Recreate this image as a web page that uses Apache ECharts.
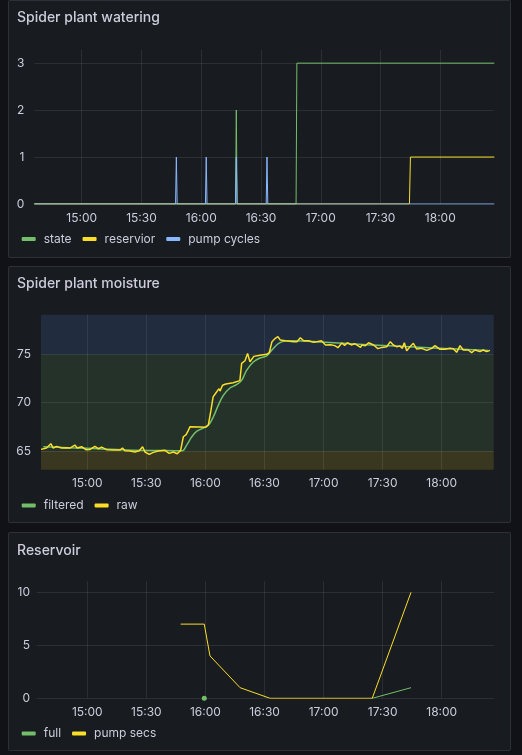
<!DOCTYPE html>
<html><head><meta charset="utf-8">
<script src="https://cdn.jsdelivr.net/npm/echarts@6/dist/echarts.min.js"></script>
<style>
html,body{margin:0;padding:0;background:#111217;width:522px;height:755px;overflow:hidden;}
.panel{position:absolute;background:#181b1f;border:1px solid rgba(204,204,220,0.12);border-radius:2px;box-sizing:border-box;}
#chart{position:absolute;left:0;top:0;width:522px;height:755px;}
</style></head><body>
<div class="panel" style="left:8px;top:0px;width:503px;height:258px"></div>
<div class="panel" style="left:8px;top:266px;width:503px;height:257px"></div>
<div class="panel" style="left:8px;top:532px;width:503px;height:219px"></div>
<div id="chart"></div>
<script>
// ---------- Panel 1: Spider plant watering ----------
const stateTimes = ['14:36:12','16:17:12','16:17:36','16:18:00','16:47:36','16:48:00','18:27:06'];
const stateValues = [0,0,2,0,0,3,3];
const reservoirTimes = ['14:36:12','17:44:30','17:45:00','18:27:06'];
const reservoirValues = [0,0,1,1];
const pumpCycleTimes = ['14:36:12','15:47:06','15:47:30','15:47:54','16:02:06','16:02:30','16:02:54','16:17:12','16:17:36','16:18:00','16:32:36','16:33:00','16:33:24','18:27:06'];
const pumpCycleValues = [0,0,1,0,0,1,0,0,1,0,0,1,0,0];
const wateringTicks = [0,1,2,3];

// ---------- Panel 2: Spider plant moisture ----------
const rawTimes = ['14:36:30','14:39:18','14:41:30','14:42:42','14:44:24','14:47:00','14:49:30','14:51:12','14:53:42','14:54:54','14:57:06','14:59:18','15:01:24','15:03:54','15:05:36','15:07:18','15:09:48','15:13:12','15:16:36','15:17:54','15:19:06','15:21:42','15:24:12','15:26:24','15:28:06','15:29:18','15:31:30','15:33:30','15:36:06','15:39:24','15:41:36','15:43:42','15:45:42','15:47:24','15:47:54','15:48:48','15:50:12','15:51:00','15:52:12','15:57:12','16:00:00','16:01:30','16:02:48','16:03:54','16:05:18','16:06:54','16:07:24','16:08:42','16:10:24','16:14:06','16:17:30','16:18:24','16:20:06','16:21:24','16:22:36','16:24:36','16:27:42','16:31:06','16:32:24','16:33:48','16:35:30','16:36:48','16:38:00','16:40:36','16:44:48','16:46:30','16:48:12','16:49:54','16:52:24','16:54:54','16:56:36','16:58:54','17:01:00','17:03:36','17:05:42','17:07:18','17:09:18','17:10:42','17:12:06','17:14:06','17:15:48','17:18:48','17:19:30','17:21:12','17:22:54','17:25:24','17:27:36','17:29:36','17:32:06','17:33:54','17:35:24','17:37:06','17:38:48','17:40:00','17:41:00','17:42:12','17:43:54','17:45:36','17:47:18','17:49:48','17:52:24','17:54:54','17:56:36','17:59:06','18:01:42','18:04:12','18:05:54','18:07:36','18:09:18','18:10:54','18:13:30','18:15:12','18:16:54','18:19:24','18:21:06','18:22:48','18:24:30'];
const rawValues = [65.17,65.31,65.76,65.31,65.48,65.31,65.34,65.31,65.62,65.31,65.45,65.14,65.17,65.48,65.24,65.41,65.14,65.10,65.10,65.31,65.03,65.00,64.90,65.03,65.45,64.90,64.66,64.86,65.00,65.07,64.76,64.90,64.72,65.07,65.10,66.48,66.70,67.00,67.52,67.48,67.45,67.70,69.20,70.60,71.00,71.45,71.20,71.80,71.93,72.07,72.28,74.07,74.34,75.10,74.24,74.79,74.90,75.00,75.17,76.31,76.66,76.83,76.48,76.41,76.31,76.31,76.72,76.41,76.41,76.24,76.31,76.41,75.97,76.00,75.90,75.69,76.17,75.93,76.20,75.97,76.10,75.72,75.97,75.90,76.20,75.97,75.59,75.72,75.79,76.31,75.97,75.79,75.86,75.62,76.20,75.38,75.79,76.14,75.55,75.62,75.41,75.62,75.90,75.52,75.52,75.62,75.59,75.21,75.90,75.45,75.45,75.17,75.45,75.28,75.45,75.28,75.41];
const filteredTimes = ['14:37:42','14:50:00','15:00:00','15:20:00','15:40:00','15:48:24','15:50:24','15:53:00','15:55:30','15:58:54','16:01:30','16:04:00','16:06:30','16:09:06','16:12:30','16:15:48','16:18:24','16:20:54','16:24:18','16:27:42','16:31:06','16:33:36','16:37:00','16:40:24','16:44:36','16:58:12','17:21:54','17:55:42','18:23:42'];
const filteredValues = [65.45,65.35,65.28,65.12,65.05,65.03,65.59,66.45,67.03,67.38,67.66,68.52,69.72,70.76,71.52,71.86,72.31,73.34,74.21,74.62,74.83,75.41,76.10,76.38,76.41,76.28,76.00,75.66,75.41];
const moistureThresholds = [65, 75];
const moistureTicks = [65,70,75];

// ---------- Panel 3: Reservoir ----------
const fullTimes = ['15:59:24','16:02:18','17:24:42','17:44:24'];
const fullValues = [0,null,0,1];
const pumpSecsTimes = ['15:47:24','15:59:24','16:02:18','16:17:36','16:32:48','17:24:42','17:44:24'];
const pumpSecsValues = [7,7,4,1,0,0,10];
const reservoirTicks = [0,5,10];

const xLabels = ['15:00','15:30','16:00','16:30','17:00','17:30','18:00'];

// ---------- helpers ----------
// clock string -> minutes since midnight
function ts(hms){ const p = hms.split(':').map(Number); return p[0]*60 + p[1] + (p[2]||0)/60; }
function pair(times, values){ return times.map((t,i)=>[ts(t), values[i]===null ? '-' : values[i]]); }
function pad(n){ return (n<10?'0':'')+n; }
const FONT = 'Inter, "Noto Sans", sans-serif';
const TXT = '#ccccdc';
const GRIDC = 'rgba(240,250,255,0.09)';
const GREEN = '#73bf69', YELLOW = '#fade2a', BLUE = '#8ab8ff';

function xAxis(gi, min, max){
  return {type:'value', gridIndex:gi, min:ts(min), max:ts(max), splitNumber:8,
    axisLine:{show:false}, axisTick:{show:false},
    splitLine:{show:true, showMinLine:false, showMaxLine:false, lineStyle:{color:GRIDC, width:1}},
    axisLabel:{color:TXT, fontSize:12, fontFamily:FONT, margin:8, hideOverlap:false, showMinLabel:false, showMaxLabel:false,
      formatter: v => { if (Math.abs(v - Math.round(v)) > 1e-6) return ''; const m = Math.round(v);
        const s = pad(Math.floor(m/60))+':'+pad(m%60); return xLabels.indexOf(s)>=0 ? s : ''; }}
  };
}
function yAxis(gi, min, max, ticks, margin, extra){
  return Object.assign({type:'value', gridIndex:gi, min:min, max:max,
    axisLine:{show:false}, axisTick:{show:false},
    splitLine:{show:true, showMinLine: ticks.indexOf(min)>=0, showMaxLine:false, lineStyle:{color:GRIDC, width:1}},
    axisLabel:{color:TXT, fontSize:12, fontFamily:FONT, margin:margin, showMinLabel: ticks.indexOf(min)>=0, showMaxLabel:false,
      formatter: v => ticks.indexOf(Math.round(v*1000)/1000)>=0 ? String(Math.round(v)) : ''}
  }, extra||{});
}
function line(name, color, xi, data, width, extra){
  return Object.assign({name, type:'line', xAxisIndex:xi, yAxisIndex:xi, data, showSymbol:false, symbol:'none',
    color, lineStyle:{color, width}, emphasis:{disabled:true}, animation:false}, extra||{});
}
function legend(top, names){
  return {left:21.7, top, padding:0, itemWidth:14, itemHeight:4, itemGap:11, icon:'roundRect', selectedMode:false,
    textStyle:{color:TXT, fontSize:12, fontFamily:FONT, padding:[0,0,0,3]}, data:names};
}
function title(text, top){
  return {text, left:17, top, padding:0, textStyle:{color:TXT, fontSize:14, fontWeight:500, fontFamily:FONT}};
}

const mMin = 63.07, mMax = 79.1;
const bandColors = ['rgba(250,222,42,0.15)','rgba(115,191,105,0.15)','rgba(87,148,242,0.15)'];
const bandEdges = [mMin].concat(moistureThresholds, [mMax]);
const bands = bandColors.map((c,i)=>[{yAxis:bandEdges[i], itemStyle:{color:c}}, {yAxis:bandEdges[i+1]}]);

const fullData = pair(fullTimes, fullValues);
const isolated = fullData.map((d,i)=> d[1] !== '-' && (i===0 || fullData[i-1][1]==='-') && (i===fullData.length-1 || fullData[i+1][1]==='-'));

const chart = echarts.init(document.getElementById('chart'), null, {renderer:'canvas'});
chart.setOption({
  backgroundColor:'transparent',
  animation:false,
  title:[title('Spider plant watering', 11), title('Spider plant moisture', 277), title('Reservoir', 543.5)],
  legend:[legend(233, ['state','reservior','pump cycles']), legend(499.5, ['filtered','raw']), legend(727.5, ['full','pump secs'])],
  grid:[
    {left:34.3, top:50, width:460, height:154, outerBoundsMode:'none'},
    {left:41, top:314.7, width:452.7, height:155, outerBoundsMode:'none'},
    {left:36.7, top:581.3, width:457.6, height:117, outerBoundsMode:'none'}
  ],
  xAxis:[xAxis(0,'14:36:12','18:27:06'), xAxis(1,'14:36:30','18:26:24'), xAxis(2,'14:34:18','18:26:42')],
  yAxis:[
    yAxis(0, 0, 3.28, wateringTicks, 10, {interval:1}),
    yAxis(1, mMin, mMax, moistureTicks, 10, {splitNumber:3}),
    yAxis(2, 0, 11.04, reservoirTicks, 6.7, {interval:5})
  ],
  series:[
    line('state', GREEN, 0, pair(stateTimes, stateValues), 1),
    line('reservior', YELLOW, 0, pair(reservoirTimes, reservoirValues), 1),
    line('pump cycles', BLUE, 0, pair(pumpCycleTimes, pumpCycleValues), 1),
    line('filtered', GREEN, 1, pair(filteredTimes, filteredValues), 1.5, {smooth:0.3, markArea:{silent:true, data:bands}}),
    line('raw', YELLOW, 1, pair(rawTimes, rawValues), 1.5),
    line('full', GREEN, 2, fullData, 1, {symbol:'circle', showSymbol:true, showAllSymbol:true,
      symbolSize:(v,p)=> isolated[p.dataIndex] ? 5 : 0, itemStyle:{color:GREEN}}),
    line('pump secs', YELLOW, 2, pair(pumpSecsTimes, pumpSecsValues), 1)
  ]
});
</script>
</body></html>
